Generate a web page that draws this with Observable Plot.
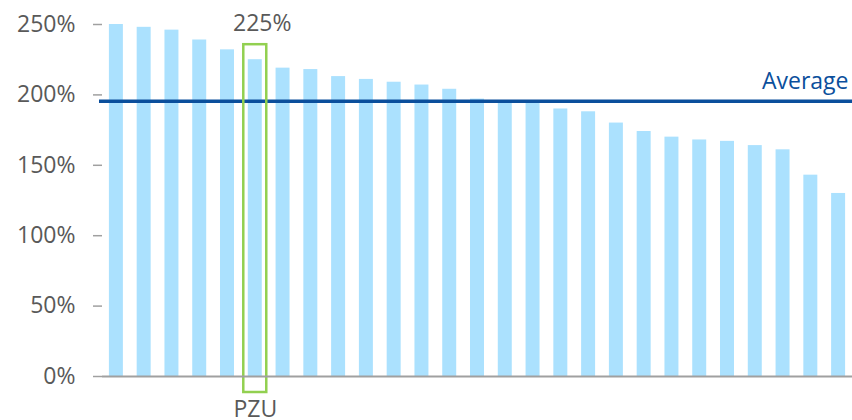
<!DOCTYPE html>
<html>
<head>
<meta charset="utf-8">
<script src="https://cdn.jsdelivr.net/npm/d3@7"></script>
<script src="https://cdn.jsdelivr.net/npm/@observablehq/plot@0.6"></script>
<style>
  html, body { margin: 0; padding: 0; background: #fff; }
</style>
</head>
<body>
<div id="chart"></div>
<script>
const names = ["Peer 1","Peer 2","Peer 3","Peer 4","Peer 5","PZU","Peer 7","Peer 8","Peer 9","Peer 10",
  "Peer 11","Peer 12","Peer 13","Peer 14","Peer 15","Peer 16","Peer 17","Peer 18","Peer 19","Peer 20",
  "Peer 21","Peer 22","Peer 23","Peer 24","Peer 25","Peer 26","Peer 27"];
const values = [250,248,246,239,232,225,219,218,213,211,209,207,204,197,196,195,190,188,180,174,170,168,167,164,161,143,130];
const average = 195.5;
const highlightName = "PZU";
const yTicks = [0,50,100,150,200,250];

const data = names.map((n, i) => ({name: n, value: values[i]}));
const highlight = data.filter(d => d.name === highlightName);

const gray = "#595959";
const fs = 23;
const chart = Plot.plot({
  width: 852,
  height: 420,
  marginLeft: 102,
  marginRight: 0,
  marginTop: 24,
  marginBottom: 44,
  style: {fontFamily: "'Open Sans', sans-serif", fontSize: fs + "px", color: gray, background: "#fff", overflow: "visible"},
  x: {domain: names, padding: 0, round: false, axis: null},
  y: {domain: [0, 250], axis: null},
  marks: [
    Plot.barY(data, {x: "name", y: "value", fill: "#abe1fe", insetLeft: 6.9, insetRight: 6.9}),
    Plot.ruleY([average], {stroke: "#0b4f9c", strokeWidth: 3.5, insetLeft: -3}),
    Plot.text([average], {y: d => d, text: () => "Average", frameAnchor: "right", textAnchor: "end", lineAnchor: "bottom", dy: -12, dx: -4, fill: "#0b4f9c", fontSize: fs}),
    Plot.barY(highlight, {x: "name", y1: 0, y2: "value", fill: "none", stroke: "#92d050", strokeWidth: 2.5, insetLeft: 2.4, insetRight: 2.4, insetTop: -15, insetBottom: -16}),
    Plot.text(highlight, {x: "name", y: "value", text: d => d.value + "%", dy: -36, dx: 7, fill: gray, fontSize: fs}),
    Plot.axisY(yTicks, {tickSize: 9, tickPadding: 18, tickFormat: d => d + "%", stroke: "#a0a0a0", strokeWidth: 1.5, fill: gray, fontSize: fs, label: null}),
    Plot.ruleX([0], {frameAnchor: "left", y1: 0, y2: 250, stroke: "#a0a0a0", strokeWidth: 1.5}),
    Plot.ruleY([0], {stroke: "#a0a0a0", strokeWidth: 2}),
    Plot.axisX([highlightName], {tickSize: 0, tickPadding: 24, fill: gray, fontSize: fs, label: null})
  ]
});
document.getElementById("chart").appendChild(chart);
</script>
</body>
</html>
